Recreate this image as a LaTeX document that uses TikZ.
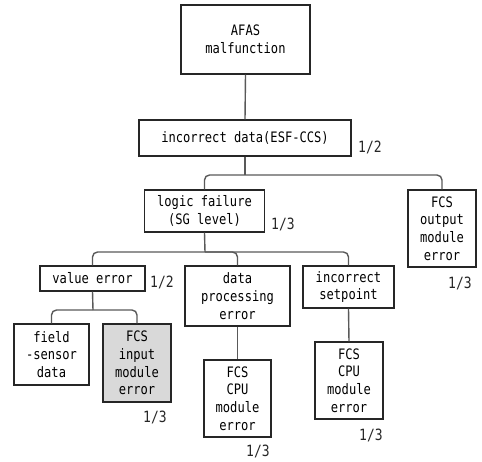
\documentclass[tikz,border=0pt]{standalone}
\usepackage{fontspec}
\newfontfamily\diagfont[FakeStretch=0.84]{DejaVu Sans Mono}
\begin{document}
\begin{tikzpicture}[x=1pt,y=-1pt,
  every node/.style={font=\diagfont\fontsize{14.4}{17.7}\selectfont},
  box/.style={draw=black!85, line width=1.4pt, rectangle, inner sep=0pt, align=center, fill=white},
  graybox/.style={box, fill=black!15},
  conn/.style={draw=black!65, line width=1.4pt, rounded corners=5pt},
  ratio/.style={inner sep=0pt, text=black!85, font=\diagfont\fontsize{15.5}{18}\selectfont}]
\useasboundingbox (0,0) rectangle (482,461);

% fault tree boxes
\node[box, minimum width=129pt, minimum height=69pt] (afas) at (245.5,39.5) {AFAS\\malfunction};
\node[box, minimum width=212pt, minimum height=36pt] (data) at (245,138) {incorrect data(ESF-CCS)};
\node[box, minimum width=120pt, minimum height=42pt] (logic) at (204.5,211) {logic failure\\(SG level)};
\node[box, minimum width=68pt, minimum height=77pt] (outp) at (442,228.5) {FCS\\output\\module\\error};
\node[box, minimum width=105pt, minimum height=25pt] (value) at (92.5,278.5) {value error};
\node[box, minimum width=105pt, minimum height=60pt] (proc) at (237.5,296) {data\\processing\\error};
\node[box, minimum width=91pt, minimum height=42pt] (setp) at (348.5,287) {incorrect\\setpoint};
\node[box, minimum width=75pt, minimum height=61pt] (field) at (51.5,354.5) {field\\-sensor\\data};
\node[graybox, minimum width=68pt, minimum height=78pt] (inmod) at (137,363) {FCS\\input\\module\\error};
\node[box, minimum width=67pt, minimum height=77pt] (cpuA) at (237.5,398.5) {FCS\\CPU\\module\\error};
\node[box, minimum width=68pt, minimum height=77pt] (cpuB) at (349,380.5) {FCS\\CPU\\module\\error};

% probability labels
\node[ratio] (rData) at (370,147) {1/2};
\node[ratio] (rLogic) at (283,224) {1/3};
\node[ratio] (rOutp) at (460,283) {1/3};
\node[ratio] (rValue) at (162,282) {1/2};
\node[ratio] (rIn) at (155,417) {1/3};
\node[ratio] (rCpuA) at (258,451) {1/3};
\node[ratio] (rCpuB) at (371,435) {1/3};

% connectors
\coordinate (j1) at (245,175);
\coordinate (j2) at (205,252);
\coordinate (j3) at (93,310);
\draw[conn] (afas.south) -- (data.north);
\draw[conn] (data.south) -- (j1);
\draw[conn] (logic.north) |- (j1) -| (outp.north);
\draw[conn] (logic.south) -- (j2);
\draw[conn] (value.north) |- (j2) -| (setp.north);
\draw[conn] (j2) -| (proc.north);
\draw[conn] (value.south) -- (j3);
\draw[conn] (field.north) |- (j3) -| (inmod.north);
\draw[conn] (proc.south) -- (cpuA.north);
\draw[conn] (setp.south) -- (cpuB.north);
\end{tikzpicture}
\end{document}
